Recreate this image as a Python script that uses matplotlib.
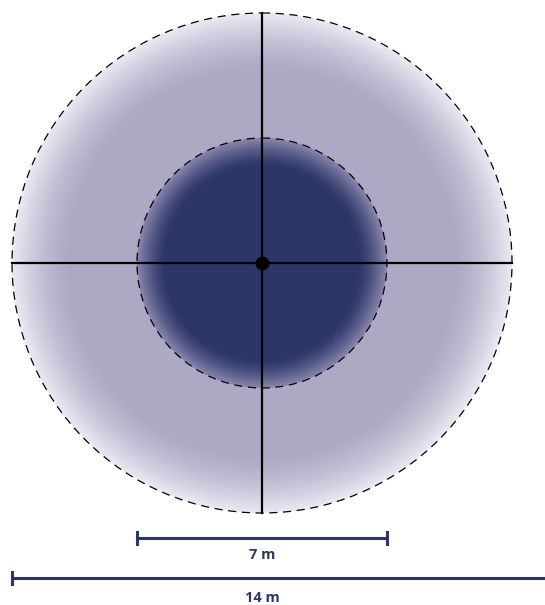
import matplotlib.pyplot as plt
import numpy as np
from matplotlib.patches import Circle

# radii in metres
outer_radius = 7.0
inner_radius = 3.5
scale_labels = ["7 m", "14 m"]
scale_lengths = [7.0, 14.0]

px_per_m = 250 / 7.0
cx, cy = 262, 263

lav = np.array([173, 169, 197]) / 255
lav_edge = np.array([236, 235, 243]) / 255
navy = np.array([44, 54, 104]) / 255
navy_edge = np.array([140, 136, 176]) / 255
bar_col = "#2c3669"

fig = plt.figure(figsize=(5.45, 6.05), dpi=100)
ax = fig.add_axes([0, 0, 1, 1])
ax.set_xlim(0, 545)
ax.set_ylim(605, 0)
ax.axis("off")

# radial gradient image
yy, xx = np.mgrid[0:605, 0:545] + 0.5
r = np.hypot(xx - cx, yy - cy) / px_per_m
img = np.zeros((605, 545, 4))
t_out = np.clip((r - 5.3) / (outer_radius - 5.3), 0, 1) ** 1.6
col_out = lav[None, None, :] * (1 - t_out[..., None]) + lav_edge[None, None, :] * t_out[..., None]
t_in = np.clip((r - 2.7) / (inner_radius - 2.7), 0, 1) ** 1.4
col_in = navy[None, None, :] * (1 - t_in[..., None]) + navy_edge[None, None, :] * t_in[..., None]
img[..., :3] = np.where((r <= inner_radius)[..., None], col_in, col_out)
img[..., 3] = (r <= outer_radius).astype(float)
ax.imshow(img, extent=(0, 545, 605, 0), interpolation="bilinear", zorder=1)

for rad in [outer_radius, inner_radius]:
    ax.add_patch(Circle((cx, cy), rad * px_per_m, fill=False, ec="black",
                        lw=0.9, ls=(0, (6.5, 4.5)), zorder=3))

# crosshair
R = outer_radius * px_per_m
ax.plot([cx - R, cx + R], [cy, cy], color="black", lw=1.6, zorder=4)
ax.plot([cx, cx], [cy - R, cy + R], color="black", lw=1.6, zorder=4)
ax.plot(cx, cy, "o", color="black", ms=9, zorder=5)

# scale bars
bar_y = [538, 578]
text_y = [555, 598]
for lab, length, by, ty in zip(scale_labels, scale_lengths, bar_y, text_y):
    half = length / 2 * px_per_m
    x0, x1 = cx - half, cx + half
    if length == 14.0:
        x1 = 548
    ax.plot([x0, x1], [by, by], color=bar_col, lw=2.2, solid_capstyle="butt", zorder=4)
    ax.plot([x0, x0], [by - 6, by + 6], color=bar_col, lw=2.2, zorder=4)
    ax.plot([x1, x1], [by - 6, by + 6], color=bar_col, lw=2.2, zorder=4)
    ax.text(cx, ty, lab, ha="center", va="center", color=bar_col,
            fontsize=10.5, fontweight="bold", family="Open Sans")

fig.savefig("out.png", dpi=100)
